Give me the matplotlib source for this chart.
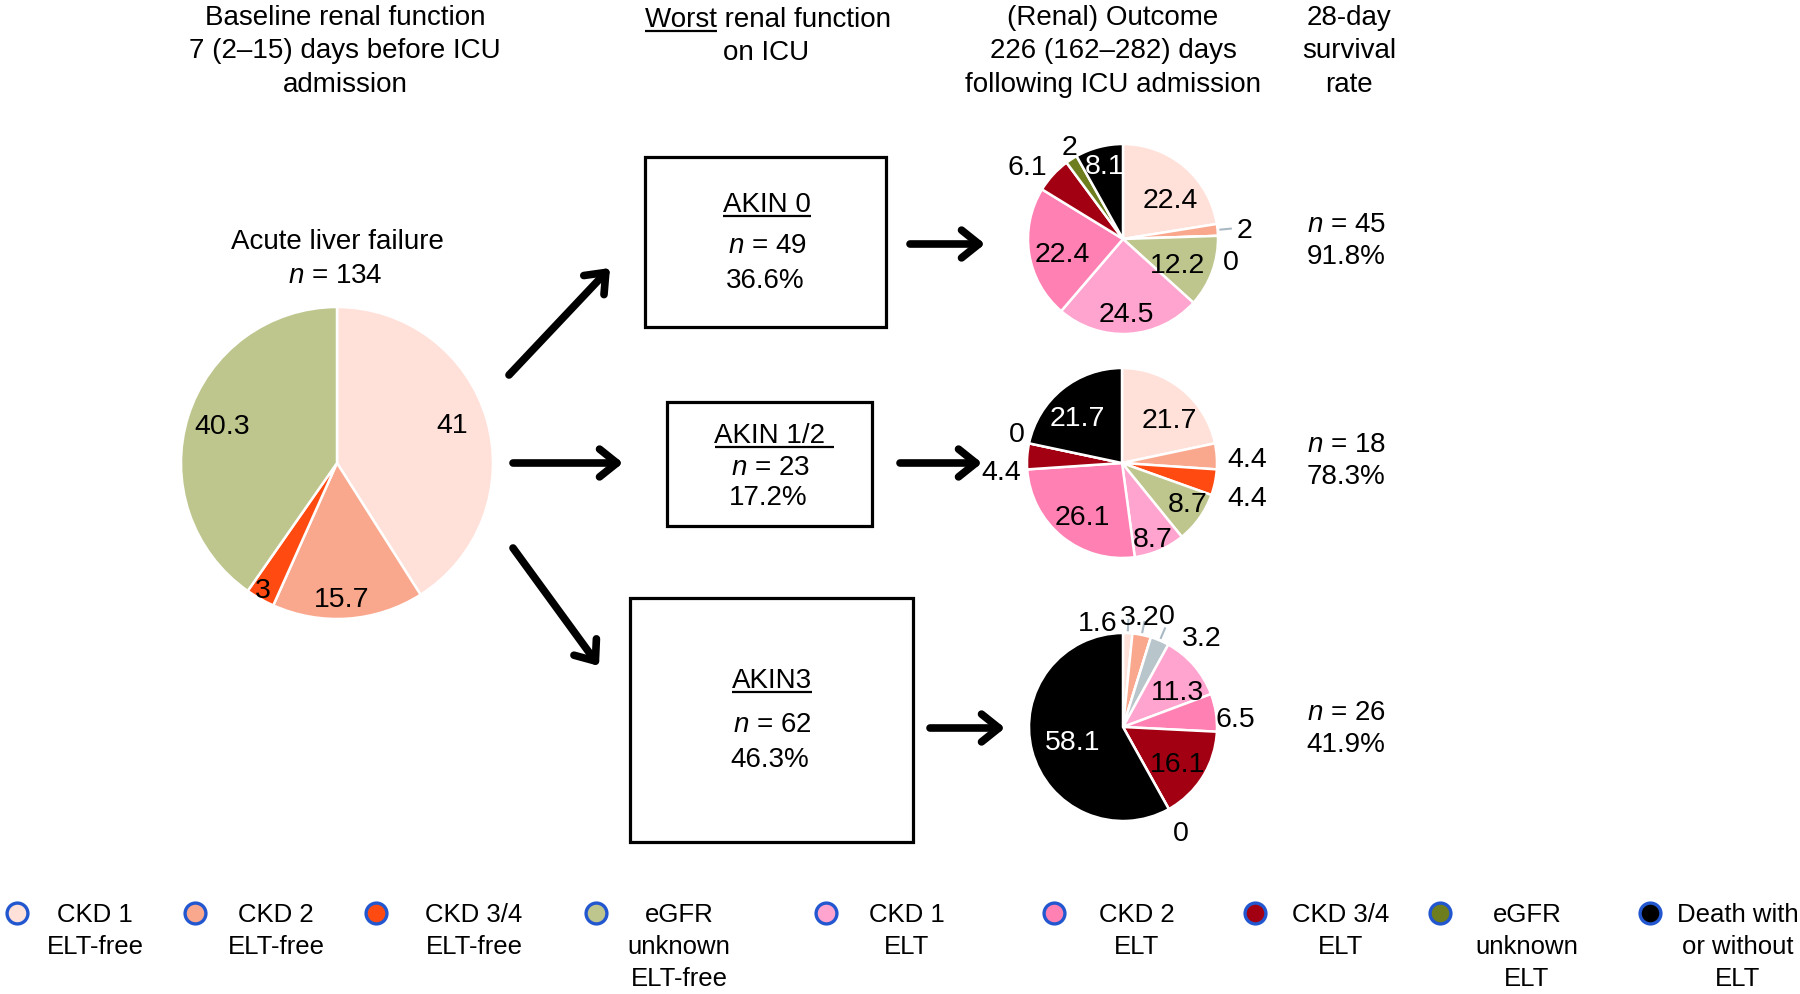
import numpy as np
import matplotlib
matplotlib.use("Agg")
import matplotlib.pyplot as plt
from matplotlib.patches import Rectangle

plt.rcParams['font.family'] = ['Liberation Sans', 'DejaVu Sans']
plt.rcParams['mathtext.fontset'] = 'custom'
plt.rcParams['mathtext.rm'] = 'Liberation Sans'
plt.rcParams['mathtext.it'] = 'Liberation Sans:italic'

# ---- data ----
categories = ["CKD 1\nELT-free", "CKD 2\nELT-free", "CKD 3/4\nELT-free", "eGFR\nunknown\nELT-free",
              "CKD 1\nELT", "CKD 2\nELT", "CKD 3/4\nELT", "eGFR\nunknown\nELT",
              "Death with\nor without\nELT"]
cat_colors = ['#FFE1D9', '#FAA88D', '#FF4B12', '#BEC68E', '#FFA4CF',
              '#FF80B3', '#A20012', '#6E7E1E', '#000000']

total_n = 134
baseline_values = [41, 15.7, 3, 40.3]          # first four categories
akin0_values = [22.4, 2, 0, 12.2, 24.5, 22.4, 6.1, 2, 8.1]
akin12_values = [21.7, 4.4, 4.4, 8.7, 8.7, 26.1, 4.4, 0, 21.7]
akin3_values = [1.6, 3.2, 0, 3.2, 11.3, 6.5, 16.1, 0, 58.1]

groups = ["AKIN 0", "AKIN 1/2", "AKIN3"]
group_n = [49, 23, 62]
group_pct = [36.6, 17.2, 46.3]
survivors_n = [45, 18, 26]
survival_rate = [91.8, 78.3, 41.9]

W, H = 1800, 994
PX = 100 / 72
FS = 20  # main text size

fig = plt.figure(figsize=(W / 100, H / 100), dpi=100)
ax = fig.add_axes([0, 0, 1, 1])


def put(x, y, s, size=FS, color='black', ha='center'):
    # y = visual centre of the caps, measured from the top
    return ax.text(x, H - y - 0.358 * size * PX, s, fontsize=size, color=color,
                   ha=ha, va='baseline')


def draw_pie(values, cx, cy, r, colors):
    wedges, _ = ax.pie(values, colors=colors, startangle=90, counterclock=False,
                       radius=r, center=(cx, H - cy),
                       wedgeprops=dict(edgecolor='white', linewidth=1.8))
    return wedges


def label_pie(wedges, values, cx, cy, r, lab_r, lab_da, white=(), leaders=(), size=20.5):
    for i, (w, v) in enumerate(zip(wedges, values)):
        mid = 0.5 * (w.theta1 + w.theta2)
        a = np.deg2rad(mid - lab_da[i])
        put(cx + lab_r[i] * r * np.cos(a), cy - lab_r[i] * r * np.sin(a), f"{v:g}", size,
            color='white' if i in white else 'black')
        if i in leaders:
            m = np.deg2rad(mid)
            ax.plot([cx + 1.03 * r * np.cos(m), cx + 1.14 * r * np.cos(m)],
                    [H - cy + 1.03 * r * np.sin(m), H - cy + 1.14 * r * np.sin(m)],
                    color='#A9B9C3', lw=1.5)


def underline(t, extra=0, width=None):
    bb = t.get_window_extent(fig.canvas.get_renderer())
    yb = t.get_position()[1] - 4
    x1 = bb.x0 + width if width is not None else bb.x1 + extra
    ax.plot([bb.x0, x1], [yb, yb], color='black', lw=1.6, solid_capstyle='butt')


def arrow(x0, y0, x1, y1):
    ax.annotate('', xy=(x1, H - y1), xytext=(x0, H - y0),
                arrowprops=dict(arrowstyle='->,head_length=0.5,head_width=0.4', lw=5.5,
                                color='black', shrinkA=0, shrinkB=0, mutation_scale=25))


# ---- pies ----
pie_specs = [(337, 463, 156), (1123, 239, 95), (1122, 463, 95), (1123, 727, 94)]
akin3_colors = list(cat_colors)
akin3_colors[3] = '#B8C5CA'
w_base = draw_pie(baseline_values, *pie_specs[0], cat_colors[:4])
w_a0 = draw_pie(akin0_values, *pie_specs[1], cat_colors)
w_a12 = draw_pie(akin12_values, *pie_specs[2], cat_colors)
w_a3 = draw_pie(akin3_values, *pie_specs[3], akin3_colors)

ax.set_xlim(0, W)
ax.set_ylim(0, H)
ax.set_aspect('auto')
ax.set_autoscale_on(False)
ax.axis('off')

label_pie(w_base, baseline_values, *pie_specs[0],
          [0.78, 0.86, 0.93, 0.78], [-3, 2, 1, 1.5])
label_pie(w_a0, akin0_values, *pie_specs[1],
          [0.66, 1.28, 1.16, 0.63, 0.77, 0.65, 1.27, 1.14, 0.81],
          [9, 0, 13, 3.6, 1, -3, -4.7, 3, 1], white=(8,), leaders=(1,))
label_pie(w_a12, akin12_values, *pie_specs[2],
          [0.69, 1.32, 1.36, 0.8, 0.84, 0.69, 1.27, 1.16, 0.69],
          [7.7, 1, 3, -4.5, 0.5, -2, -7.4, 4.6, -4.5], white=(8,))
label_pie(w_a3, akin3_values, *pie_specs[3],
          [1.16, 1.21, 1.29, 1.28, 0.7, 1.2, 0.69, 1.26, 0.55],
          [-16.3, -2.9, 4.1, 17.5, 6.5, 3.6, 0.6, 0, 0], white=(8,), leaders=(0, 1, 3))

# ---- headers ----
for y, s in zip([15, 48, 82], ["Baseline renal function", "7 (2\u201315) days before ICU", "admission"]):
    put(345, y, s)
t_worst = put(768, 17, "Worst renal function")
tmp = put(0, 17, "Worst")
w_worst = tmp.get_window_extent(fig.canvas.get_renderer()).width
tmp.remove()
underline(t_worst, width=w_worst)
put(766, 50, "on ICU")
for y, s in zip([15, 48, 82], ["(Renal) Outcome", "226 (162\u2013282) days", "following ICU admission"]):
    put(1113, y, s)
for y, s in zip([15, 48, 82], ["28-day", "survival", "rate"]):
    put(1349, y, s)

put(337, 239, "Acute liver failure")
put(335, 273, f"$n$ = {total_n}")

# ---- boxes ----
boxes = [(645, 157, 886, 327), (667, 402, 872, 526), (630, 598, 913, 842)]
box_text_y = [(202, 243, 278), (433, 465, 495), (678, 722, 757)]
box_text_x = [767, 770, 772]
for (x0, y0, x1, y1), ys, xc, g, n, p in zip(boxes, box_text_y, box_text_x, groups, group_n, group_pct):
    ax.add_patch(Rectangle((x0, H - y1), x1 - x0, y1 - y0, fill=False, ec='black', lw=2.3))
    tg = put(xc, ys[0], g)
    underline(tg, extra=8 if '/' in g else 0)
    put(xc, ys[1], f"$n$ = {n}")
    put(xc - 2, ys[2], f"{p}%")

# ---- survival ----
for yc, n, s in zip([222, 442, 710], survivors_n, survival_rate):
    put(1346, yc, f"$n$ = {n}")
    put(1346, yc + 32, f"{s}%")

# ---- arrows ----
arrow(509, 375, 610, 268)
arrow(513, 463, 623, 463)
arrow(513, 548, 599, 666)
arrow(910, 244, 985, 244)
arrow(900, 463, 982, 463)
arrow(930, 728, 1005, 728)

# ---- legend ----
leg_circle_x = [17, 195, 376, 596, 826, 1054, 1255, 1440, 1650]
leg_text_x = [95, 276, 474, 679, 907, 1137, 1341, 1527, 1738]
for cx, tx, c, lab in zip(leg_circle_x, leg_text_x, cat_colors, categories):
    ax.plot([cx], [H - 913], 'o', ms=15, mfc=c, mec='#2257CF', mew=2.4)
    for k, line in enumerate(lab.split('\n')):
        put(tx, 913 + 32 * k, line, size=18.5)

fig.savefig("out.png", dpi=100)
